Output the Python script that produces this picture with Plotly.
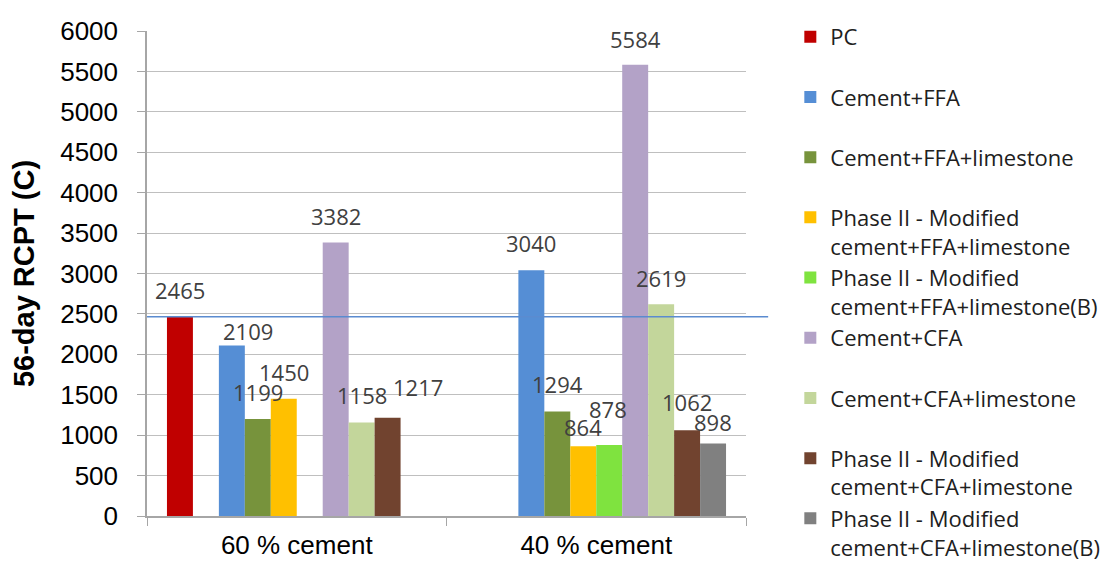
import plotly.graph_objects as go

categories = ["60 % cement", "40 % cement"]
series_names = [
    "PC",
    "",
    "Cement+FFA",
    "Cement+FFA+limestone",
    "Phase II - Modified<br>cement+FFA+limestone",
    "Phase II - Modified<br>cement+FFA+limestone(B)",
    "Cement+CFA",
    "Cement+CFA+limestone",
    "Phase II - Modified<br>cement+CFA+limestone",
    "Phase II - Modified<br>cement+CFA+limestone(B)",
]
pc = [2465, None]
hidden = [None, None]
cement_ffa = [2109, 3040]
cement_ffa_lime = [1199, 1294]
p2_ffa_lime = [1450, 864]
p2_ffa_lime_b = [None, 878]
cement_cfa = [3382, 5584]
cement_cfa_lime = [1158, 2619]
p2_cfa_lime = [1217, 1062]
p2_cfa_lime_b = [None, 898]
reference_value = 2465

series_values = [pc, hidden, cement_ffa, cement_ffa_lime, p2_ffa_lime, p2_ffa_lime_b,
                 cement_cfa, cement_cfa_lime, p2_cfa_lime, p2_cfa_lime_b]
colors = ["#C00000", "#FFFFFF", "#558ED5", "#77933C", "#FFC000", "#7FE33F",
          "#B3A2C7", "#C3D69B", "#71432F", "#808080"]

# label nudges (px) relative to bar centre / top, per series per category
label_dx = [[0, 0], [0, 0], [16, 0], [0, 0], [0, 0], [0, -1], [0, 0], [0, 0], [30, 0], [0, 0]]
label_dy = [[27, 0], [0, 0], [15, 27], [27, 27], [27, 19], [0, 36], [27, 26], [27, 26], [31, 28], [0, 21]]

# the page body adds an 8px offset, so the figure is 16px smaller than the window
W, H = 1103, 555
L, R, T, B = 139, 365, 23, 47
bargap = 0.1333
n_slots = len(series_values)

fig = go.Figure()
for i, (name, vals, col) in enumerate(zip(series_names, series_values, colors)):
    legend_text = name if "<br>" in name else name + "<br>&nbsp;"
    fig.add_trace(go.Bar(
        x=categories, y=vals, name=legend_text, marker_color=col,
        marker_line_width=0, showlegend=(name != ""), legendgroup=f"g{i}",
    ))

cat_px = (W - L - R) / len(categories)
slot_px = cat_px * (1 - bargap) / n_slots
annotations = []
for i, vals in enumerate(series_values):
    for j, v in enumerate(vals):
        if v is None:
            continue
        annotations.append(dict(
            x=categories[j], y=v, xref="x", yref="y", text=str(v), showarrow=False,
            xshift=slot_px * (i - (n_slots - 1) / 2) + label_dx[i][j],
            yshift=label_dy[i][j], yanchor="middle",
            font=dict(family="Open Sans", size=22, color="#404040"),
        ))

fig.add_shape(type="line", xref="paper", yref="y", x0=0, x1=1.037,
              y0=reference_value, y1=reference_value,
              line=dict(color="#5B8BD0", width=1.5))

fig.update_layout(
    width=W, height=H,
    margin=dict(l=L, r=R, t=T, b=B, pad=0, autoexpand=False),
    barmode="group", bargap=bargap, bargroupgap=0,
    plot_bgcolor="white", paper_bgcolor="white",
    annotations=annotations,
    legend=dict(x=1.074, xanchor="left", y=1.031, yanchor="top",
                font=dict(family="Open Sans", size=22, color="#202020"),
                tracegroupgap=0, valign="top", bgcolor="rgba(0,0,0,0)",
                maxheight=H),
    showlegend=True,
)
fig.update_xaxes(
    automargin=False,
    showline=True, linecolor="#A6A6A6", linewidth=1.5,
    ticks="outside", tickson="boundaries", ticklen=8, tickcolor="#A6A6A6",
    tickfont=dict(family="Liberation Sans", size=26, color="#000000"),
    ticklabelstandoff=5,
)
fig.update_yaxes(
    automargin=False,
    range=[0, 6000], dtick=500, tick0=0,
    showgrid=True, gridcolor="#BFBFBF", gridwidth=1.2,
    showline=True, linecolor="#A6A6A6", linewidth=1.5,
    ticks="outside", ticklen=8, tickcolor="#A6A6A6",
    tickfont=dict(family="Liberation Sans", size=26, color="#000000"),
    ticklabelstandoff=14, zeroline=False,
    title=dict(text="<b>56-day RCPT (C)</b>", standoff=18,
               font=dict(family="Liberation Sans", size=29, color="#000000")),
)

fig.write_html("out.html")
